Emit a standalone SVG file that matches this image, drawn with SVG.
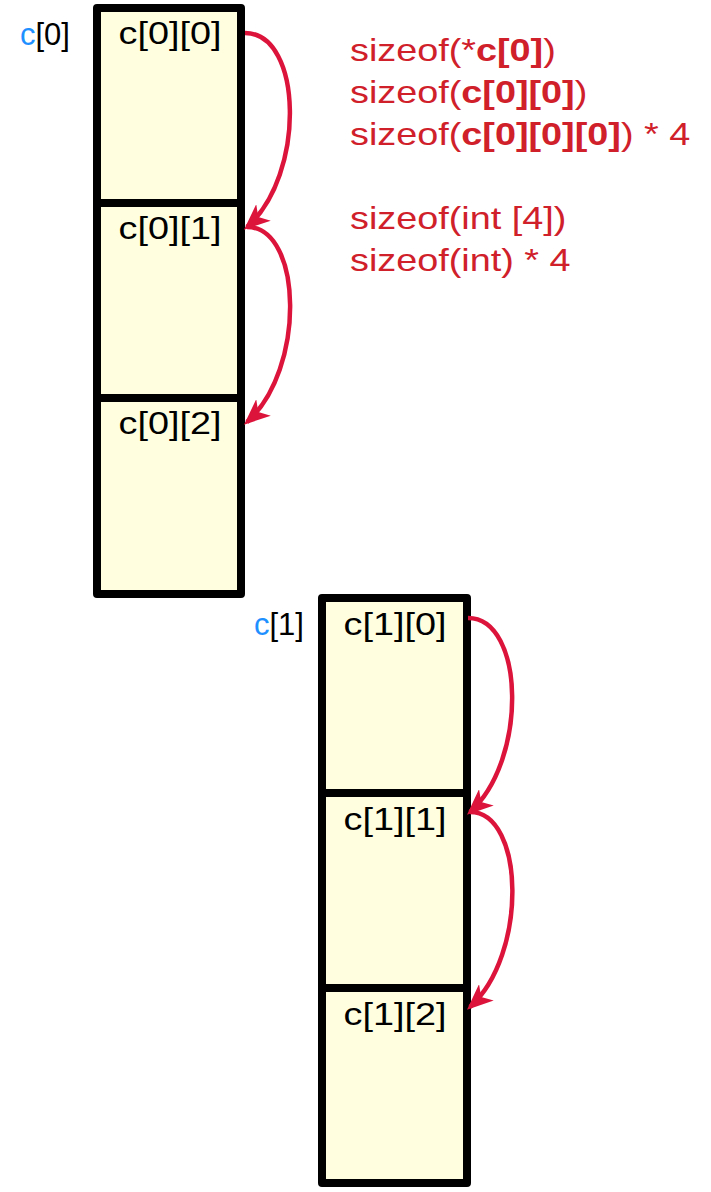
<svg xmlns="http://www.w3.org/2000/svg" width="711" height="1192" viewBox="0 0 711 1192">
<style>
.cell{fill:#ffffe0;stroke:#000;stroke-width:8;stroke-linejoin:round}
.lbl{font-family:"Liberation Sans",Arial,sans-serif;font-size:31.5px;fill:#000;text-anchor:middle}
.idx{font-family:"Liberation Sans",Arial,sans-serif;font-size:31px;fill:#000}
.blue{fill:#1e90ff}
.red{font-family:"Liberation Sans",Arial,sans-serif;font-size:31.5px;fill:#d0202a}
.b{font-weight:bold}
.arr{fill:none;stroke:#dc143c;stroke-width:4.5;marker-end:url(#ah)}
</style>
<defs>
<marker id="ah" markerUnits="userSpaceOnUse" markerWidth="26" markerHeight="22" viewBox="0 0 26 22" refX="22" refY="11" orient="auto">
<path d="M0,0 L26,11 L0,22 L7,11 z" fill="#dc143c"/>
</marker>
</defs>
<g id="c0">
<g id="c00"><rect class="cell" x="97" y="8" width="144" height="195"/><text class="lbl" transform="translate(170,44) scale(1.2,1)">c[0][0]</text></g>
<g id="c01"><rect class="cell" x="97" y="203" width="144" height="195"/><text class="lbl" transform="translate(170,239) scale(1.2,1)">c[0][1]</text></g>
<g id="c02"><rect class="cell" x="97" y="398" width="144" height="196"/><text class="lbl" transform="translate(170,434) scale(1.2,1)">c[0][2]</text></g>
</g>
<g id="c1">
<g id="c10"><rect class="cell" x="322" y="598" width="145" height="195"/><text class="lbl" transform="translate(395,635) scale(1.2,1)">c[1][0]</text></g>
<g id="c11"><rect class="cell" x="322" y="793" width="145" height="195"/><text class="lbl" transform="translate(395,830) scale(1.2,1)">c[1][1]</text></g>
<g id="c12"><rect class="cell" x="322" y="988" width="145" height="195"/><text class="lbl" transform="translate(395,1025) scale(1.2,1)">c[1][2]</text></g>
</g>
<g id="labels">
<text class="idx" x="20" y="45"><tspan class="blue">c</tspan>[0]</text>
<text class="idx" x="254" y="635"><tspan class="blue">c</tspan>[1]</text>
</g>
<g id="notes">
<text class="red" transform="translate(350,61) scale(1.2,1)">sizeof(*<tspan class="b">c[0]</tspan>)</text>
<text class="red" transform="translate(350,103) scale(1.2,1)">sizeof(<tspan class="b">c[0][0]</tspan>)</text>
<text class="red" transform="translate(350,145) scale(1.2,1)">sizeof(<tspan class="b">c[0][0][0]</tspan>) * 4</text>
<text class="red" transform="translate(350,229) scale(1.2,1)">sizeof(int [4])</text>
<text class="red" transform="translate(350,271) scale(1.2,1)">sizeof(int) * 4</text>
</g>
<g id="connectors">
<path class="arr" d="M245,33 C303,33 306,175 247,227"/>
<path class="arr" d="M247,227 C303,227 306,370 247,422"/>
<path class="arr" d="M468,618 C525,618 528,760 470,812"/>
<path class="arr" d="M470,812 C525,812 528,955 470,1007"/>
</g>
</svg>
